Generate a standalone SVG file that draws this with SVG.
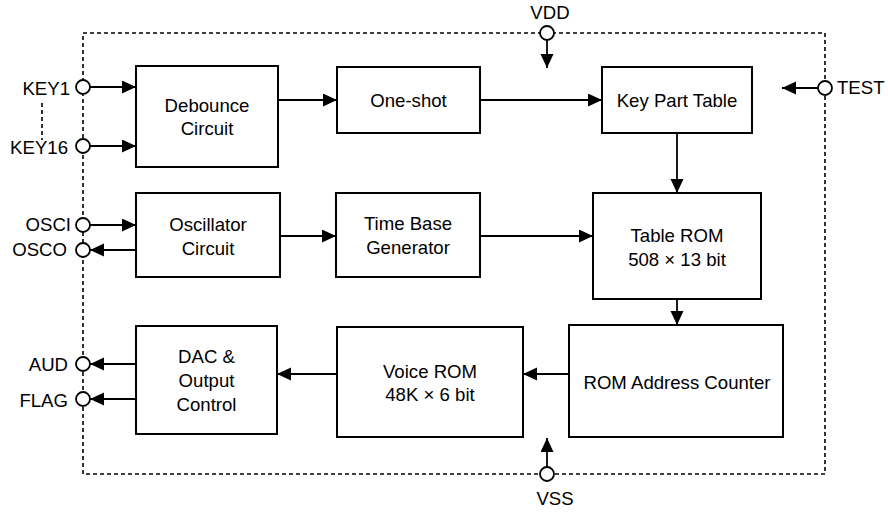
<svg xmlns="http://www.w3.org/2000/svg" width="888" height="512" viewBox="0 0 888 512">
<defs>
<marker id="ah" markerUnits="userSpaceOnUse" markerWidth="15" markerHeight="14" refX="14" refY="6.5" orient="auto">
<path d="M0,0 L14,6.5 L0,13 z" fill="#000"/>
</marker>
<style>
.box{fill:#fff;stroke:#000;stroke-width:2}
.t{font-family:"Liberation Sans",Arial,sans-serif;font-size:18.6px;fill:#000;text-anchor:middle}
.l{text-anchor:end}
.r{text-anchor:start}
.c{fill:none;stroke:#000;stroke-width:1.8;marker-end:url(#ah)}
.pin{fill:#fff;stroke:#000;stroke-width:1.8}
.dash{fill:none;stroke:#000;stroke-width:1.6;stroke-dasharray:4 3}
</style>
</defs>
<rect width="888" height="512" fill="#fff"/>
<rect class="dash" x="83" y="33" width="742" height="441"/>
<line class="dash" x1="42" y1="103" x2="42" y2="140"/>

<g id="connectors">
<line class="c" x1="90" y1="87" x2="136" y2="87"/>
<line class="c" x1="90" y1="146" x2="136" y2="146"/>
<line class="c" x1="278" y1="100" x2="337" y2="100"/>
<line class="c" x1="480" y1="100" x2="602" y2="100"/>
<line class="c" x1="547" y1="40" x2="547" y2="68"/>
<line class="c" x1="818" y1="88" x2="782" y2="88"/>
<line class="c" x1="677" y1="133" x2="677" y2="193"/>
<line class="c" x1="90" y1="225" x2="136" y2="225"/>
<line class="c" x1="136" y1="250" x2="90" y2="250"/>
<line class="c" x1="280" y1="236" x2="336" y2="236"/>
<line class="c" x1="480" y1="236" x2="593" y2="236"/>
<line class="c" x1="677" y1="299" x2="677" y2="325"/>
<line class="c" x1="569" y1="374" x2="523" y2="374"/>
<line class="c" x1="337" y1="374" x2="277" y2="374"/>
<line class="c" x1="136" y1="364" x2="90" y2="364"/>
<line class="c" x1="136" y1="399" x2="90" y2="399"/>
<line class="c" x1="547" y1="467" x2="547" y2="438"/>
</g>

<g id="debounce">
<rect class="box" x="136" y="66" width="142" height="101"/>
<text class="t" x="207" y="112">Debounce</text>
<text class="t" x="207" y="135">Circuit</text>
</g>
<g id="oneshot">
<rect class="box" x="337" y="67" width="143" height="66"/>
<text class="t" x="408.5" y="107">One-shot</text>
</g>
<g id="keyparttable">
<rect class="box" x="602" y="67" width="150" height="66"/>
<text class="t" x="677" y="107">Key Part Table</text>
</g>
<g id="oscillator">
<rect class="box" x="136" y="193" width="144" height="84"/>
<text class="t" x="208" y="231">Oscillator</text>
<text class="t" x="208" y="255">Circuit</text>
</g>
<g id="timebase">
<rect class="box" x="336" y="193" width="144" height="84"/>
<text class="t" x="408" y="230">Time Base</text>
<text class="t" x="408" y="254">Generator</text>
</g>
<g id="tablerom">
<rect class="box" x="593" y="193" width="168" height="106"/>
<text class="t" x="677" y="242">Table ROM</text>
<text class="t" x="677" y="266">508 × 13 bit</text>
</g>
<g id="dac">
<rect class="box" x="136" y="326" width="141" height="108"/>
<text class="t" x="206.5" y="363">DAC &amp;</text>
<text class="t" x="206.5" y="387">Output</text>
<text class="t" x="206.5" y="411">Control</text>
</g>
<g id="voicerom">
<rect class="box" x="337" y="327" width="186" height="110"/>
<text class="t" x="430" y="378">Voice ROM</text>
<text class="t" x="430" y="401">48K × 6 bit</text>
</g>
<g id="romaddr">
<rect class="box" x="569" y="325" width="214" height="112"/>
<text class="t" x="677" y="389">ROM Address Counter</text>
</g>

<g id="pins">
<circle class="pin" cx="83" cy="87" r="7"/>
<circle class="pin" cx="83" cy="146" r="7"/>
<circle class="pin" cx="83" cy="225" r="7"/>
<circle class="pin" cx="83" cy="250" r="7"/>
<circle class="pin" cx="83" cy="364" r="7"/>
<circle class="pin" cx="83" cy="399" r="7"/>
<circle class="pin" cx="547" cy="33" r="7"/>
<circle class="pin" cx="547" cy="474" r="7"/>
<circle class="pin" cx="825" cy="88" r="7"/>
<text class="t l" x="70" y="95">KEY1</text>
<text class="t l" x="68" y="154">KEY16</text>
<text class="t l" x="71" y="231">OSCI</text>
<text class="t l" x="67" y="256">OSCO</text>
<text class="t l" x="68" y="371">AUD</text>
<text class="t l" x="68" y="407">FLAG</text>
<text class="t r" x="837" y="94">TEST</text>
<text class="t" x="550" y="19">VDD</text>
<text class="t" x="555" y="505">VSS</text>
</g>
</svg>
